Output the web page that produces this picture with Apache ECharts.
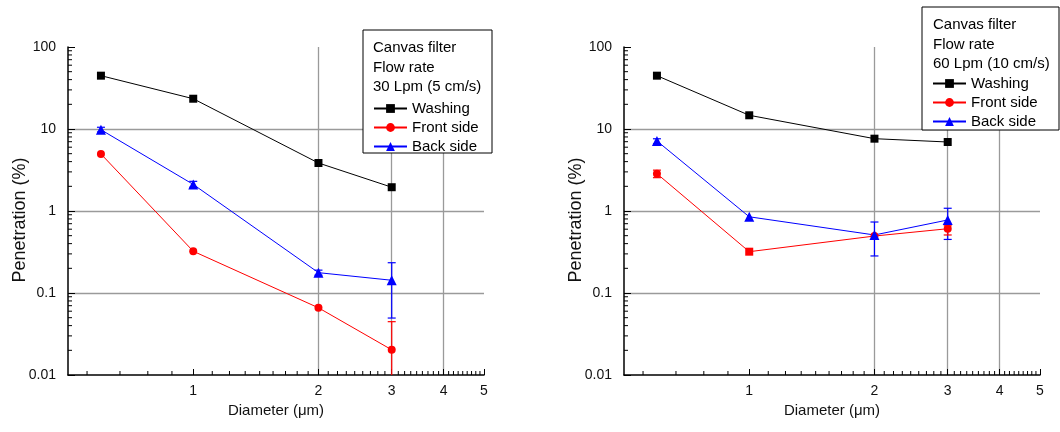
<!DOCTYPE html>
<html>
<head>
<meta charset="utf-8">
<script src="https://cdn.jsdelivr.net/npm/echarts@6/dist/echarts.min.js"></script>
<style>
html,body{margin:0;padding:0;background:#fff;}
#chart{width:1060px;height:432px;}
</style>
</head>
<body>
<div id="chart"></div>
<script>
// ---- data ----
const diameters = [0.6, 1, 2, 3];
const washing30 = [44.7, 23.4, 3.85, 1.95];
const front30   = [4.96, 0.323, 0.066, 0.0203];
const back30    = [9.8, 2.11, 0.177, 0.143];
const washing60 = [44.7, 14.7, 7.62, 6.94];
const front60   = [2.85, 0.319, 0.495, 0.608];
const back60    = [7.14, 0.85, 0.51, 0.777];
// error bars: [diameter, low, high]
const back30Err  = [[0.6, 9.2, 10.5], [1, 1.95, 2.3], [2, 0.165, 0.19], [3, 0.0495, 0.234]];
const front30Err = [[3, 0.005, 0.0447]];
const back60Err  = [[0.6, 6.6, 7.6], [2, 0.283, 0.734], [3, 0.45, 1.08]];
const front60Err = [[0.6, 2.55, 3.15], [3, 0.51, 0.66]];
const xTickValues = [1, 2, 3, 4, 5];
const seriesNames = ['Washing', 'Front side', 'Back side'];
const titles30 = ['Canvas filter', 'Flow rate', '30 Lpm (5 cm/s)'];
const titles60 = ['Canvas filter', 'Flow rate', '60 Lpm (10 cm/s)'];
const xTitle = 'Diameter (\u03bcm)';
const yTitle = 'Penetration (%)';

// minor tick positions (axis decoration)
const xMinor = [];
for (let k = 1; k <= 4; k++) xMinor.push(1 - k / 9);
for (let n = 1; n <= 4; n++) for (let k = 1; k <= 8; k++) xMinor.push(n + k / 9);
const yMinor = [];
[0.01, 0.1, 1, 10].forEach(d => { for (let m = 2; m <= 9; m++) yMinor.push(d * m); });

const FONT = "'Liberation Sans', Arial, sans-serif";
const BLACK = '#000000', RED = '#ff0000', BLUE = '#0000ff';

function pairs(ys) { return diameters.map((d, i) => [d, ys[i]]); }

function xAxisDef(idx) {
  return {
    type: 'log', gridIndex: idx, min: 0.5, max: 5, logBase: 10,
    name: xTitle, nameLocation: 'middle', nameGap: 25,
    nameTextStyle: { fontSize: 15, color: '#111', fontFamily: FONT },
    axisLine: { show: true, onZero: false, lineStyle: { color: '#000', width: 1.5 } },
    axisTick: { show: true, inside: true, length: 6, customValues: xTickValues, lineStyle: { color: '#000' } },
    axisLabel: { show: true, customValues: xTickValues, fontSize: 14, color: '#111', fontFamily: FONT, margin: 9 },
    splitLine: { show: true, showMinLine: false, showMaxLine: false, lineStyle: { color: '#9a9a9a', width: 1.3 } },
    minorTick: { show: false }
  };
}
function yAxisDef(idx) {
  return {
    type: 'log', gridIndex: idx, min: 0.01, max: 100, logBase: 10,
    axisLine: { show: true, onZero: false, lineStyle: { color: '#000', width: 1.5 } },
    axisTick: { show: true, inside: true, length: 7, lineStyle: { color: '#000' } },
    axisLabel: { show: true, fontSize: 14, color: '#111', fontFamily: FONT, margin: 12,
      formatter: v => String(+(+v).toPrecision(3)) },
    splitLine: { show: true, showMinLine: false, showMaxLine: false, lineStyle: { color: '#9a9a9a', width: 1.3 } }
  };
}

function lineSeries(name, data, color, symbol, size, idx) {
  return {
    type: 'line', name, data, xAxisIndex: idx, yAxisIndex: idx,
    symbol, symbolSize: size, showSymbol: true,
    lineStyle: { color, width: 1 }, itemStyle: { color },
    z: 5, animation: false
  };
}
function errSeries(data, color, idx) {
  return {
    type: 'custom', xAxisIndex: idx, yAxisIndex: idx, data, clip: true, z: 4, animation: false,
    silent: true,
    renderItem(params, api) {
      const x = api.value(0);
      const lo = api.coord([x, api.value(1)]);
      const hi = api.coord([x, api.value(2)]);
      const w = 4;
      const st = { stroke: color, lineWidth: 1.2 };
      return { type: 'group', children: [
        { type: 'line', shape: { x1: lo[0], y1: lo[1], x2: hi[0], y2: hi[1] }, style: st },
        { type: 'line', shape: { x1: lo[0] - w, y1: lo[1], x2: lo[0] + w, y2: lo[1] }, style: st },
        { type: 'line', shape: { x1: hi[0] - w, y1: hi[1], x2: hi[0] + w, y2: hi[1] }, style: st }
      ]};
    }
  };
}
function minorTickSeries(idx) {
  const data = xMinor.map(v => [v, 0.01, 0]).concat(yMinor.map(v => [0.5, v, 1]));
  return {
    type: 'custom', xAxisIndex: idx, yAxisIndex: idx, data, silent: true, z: 3, animation: false,
    renderItem(params, api) {
      const p = api.coord([api.value(0), api.value(1)]);
      const isY = api.value(2) === 1;
      return { type: 'line',
        shape: isY ? { x1: p[0], y1: p[1], x2: p[0] + 4, y2: p[1] } : { x1: p[0], y1: p[1], x2: p[0], y2: p[1] - 4 },
        style: { stroke: '#000', lineWidth: 1 } };
    }
  };
}

function legendDef(left, top) {
  return {
    data: seriesNames, orient: 'vertical', left, top, padding: 0,
    itemWidth: 33, itemHeight: 11, itemGap: 4, selectedMode: false,
    textStyle: { fontSize: 15, color: '#000', fontFamily: FONT },
    z: 10
  };
}
function boxGraphics(x, y, w, h, titles, tx, ty) {
  const els = [{ type: 'rect', shape: { x, y, width: w, height: h }, style: { fill: '#fff', stroke: '#000', lineWidth: 1 }, z: 8 }];
  titles.forEach((t, i) => {
    els.push({ type: 'text', x: tx, y: ty + i * 19.4, z: 9,
      style: { text: t, font: '15px ' + FONT, fill: '#000', verticalAlign: 'middle' } });
  });
  return els;
}
function yTitleGraphic(x, y) {
  return { type: 'text', x, y, rotation: Math.PI / 2, z: 9,
    style: { text: yTitle, font: '18px ' + FONT, fill: '#111', align: 'center', verticalAlign: 'middle' } };
}

const chart = echarts.init(document.getElementById('chart'), null, { renderer: 'canvas' });
const front60Data = pairs(front60).map(p => p[0] === 1 ? { value: p, symbol: 'rect', symbolSize: 8 } : p);

chart.setOption({
  animation: false,
  backgroundColor: '#fff',
  grid: [
    { left: 68, top: 47, width: 416, height: 328 },
    { left: 624, top: 47, width: 416, height: 328 }
  ],
  xAxis: [xAxisDef(0), xAxisDef(1)],
  yAxis: [yAxisDef(0), yAxisDef(1)],
  legend: [legendDef(373, 101), legendDef(932, 76)],
  graphic: boxGraphics(363, 30, 129, 123, titles30, 373, 48)
    .concat(boxGraphics(922, 7, 137, 123, titles60, 933, 25))
    .concat([yTitleGraphic(20, 220), yTitleGraphic(576, 220)]),
  series: [
    minorTickSeries(0), minorTickSeries(1),
    errSeries(back30Err, BLUE, 0), errSeries(front30Err, RED, 0),
    errSeries(back60Err, BLUE, 1), errSeries(front60Err, RED, 1),
    lineSeries('Washing', pairs(washing30), BLACK, 'rect', 8, 0),
    lineSeries('Front side', pairs(front30), RED, 'circle', 8, 0),
    lineSeries('Back side', pairs(back30), BLUE, 'triangle', 10, 0),
    lineSeries('Washing', pairs(washing60), BLACK, 'rect', 8, 1),
    lineSeries('Front side', front60Data, RED, 'circle', 8, 1),
    lineSeries('Back side', pairs(back60), BLUE, 'triangle', 10, 1)
  ]
});
</script>
</body>
</html>
